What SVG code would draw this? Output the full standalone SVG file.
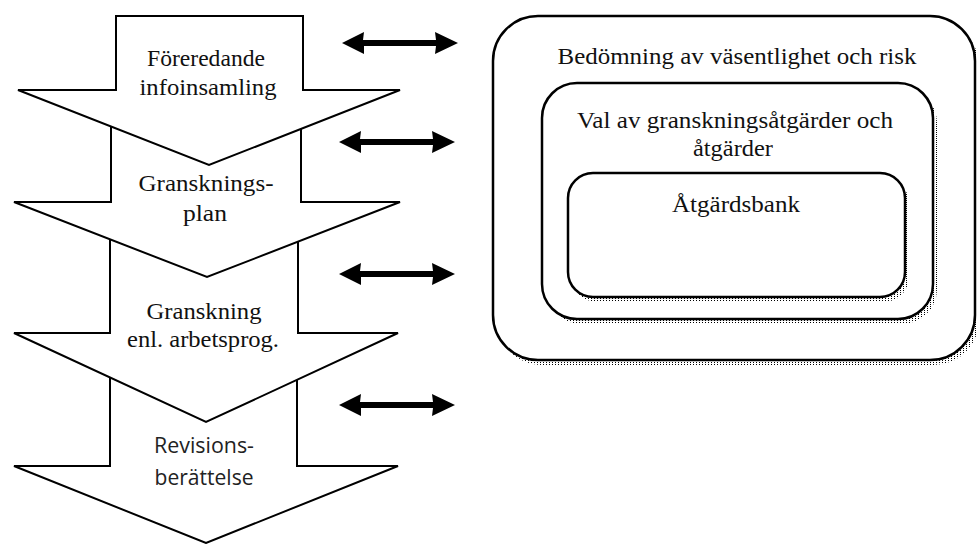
<svg xmlns="http://www.w3.org/2000/svg" width="978" height="544" viewBox="0 0 978 544">
<style>
.dn{fill:#fff;stroke:#000;stroke-width:2;stroke-linejoin:miter}
.box{fill:#fff;stroke:#000;stroke-width:2.5}
.sh{fill:url(#dots)}
.t{font-family:"Liberation Serif","Times New Roman",serif;font-size:23px;fill:#111;text-anchor:middle}
.s{font-family:"Open Sans","Liberation Sans",sans-serif;font-size:22px;fill:#222;text-anchor:middle}
.dbl{fill:#000}
</style>
<defs>
<pattern id="dots" width="3" height="2" patternUnits="userSpaceOnUse">
<rect x="0" y="0" width="1" height="1" fill="#000"/>
</pattern>
<path id="dblarrow" d="M0,0 L22,-11 L21,-3 L94,-3 L93,-11 L116,0 L93,11 L94,3 L22,3 L22,11 Z"/>
</defs>
<rect width="978" height="544" fill="#fff"/>

<g id="step4">
<polygon class="dn" points="110,355 297,355 297,466 398,466 206,543 14,466 110,466"/>
<text class="s" x="204" y="453" textLength="100" lengthAdjust="spacingAndGlyphs">Revisions-</text>
<text class="s" x="204" y="485" textLength="99" lengthAdjust="spacingAndGlyphs">berättelse</text>
</g>
<g id="step3">
<polygon class="dn" points="110,220 298,220 298,333 398,333 206,422 14,333 110,333"/>
<text class="t" x="204" y="319" textLength="115" lengthAdjust="spacingAndGlyphs">Granskning</text>
<text class="t" x="203" y="347" textLength="152" lengthAdjust="spacingAndGlyphs">enl. arbetsprog.</text>
</g>
<g id="step2">
<polygon class="dn" points="111,110 301,110 301,202 400,202 207,277 14,202 111,202"/>
<text class="t" x="206" y="191" textLength="135" lengthAdjust="spacingAndGlyphs">Gransknings-</text>
<text class="t" x="205" y="221" textLength="44" lengthAdjust="spacingAndGlyphs">plan</text>
</g>
<g id="step1">
<polygon class="dn" points="116,16 303,16 303,90 400,90 209,165 18,90 116,90"/>
<text class="t" x="206" y="66" textLength="118" lengthAdjust="spacingAndGlyphs">Föreredande</text>
<text class="t" x="208" y="95" textLength="137" lengthAdjust="spacingAndGlyphs">infoinsamling</text>
</g>

<g id="connectors">
<use href="#dblarrow" class="dbl" transform="translate(342,43)"/>
<use href="#dblarrow" class="dbl" transform="translate(339,142)"/>
<use href="#dblarrow" class="dbl" transform="translate(339,274)"/>
<use href="#dblarrow" class="dbl" transform="translate(339,405)"/>
</g>

<g id="risk">
<rect class="sh" x="497" y="21" width="482" height="344" rx="45"/>
<rect class="box" x="493" y="16" width="482" height="344" rx="45"/>
<text class="t" x="737" y="64" textLength="359" lengthAdjust="spacingAndGlyphs">Bedömning av väsentlighet och risk</text>
</g>
<g id="val">
<rect class="sh" x="546" y="88" width="391" height="236" rx="35"/>
<rect class="box" x="542" y="83" width="391" height="236" rx="35"/>
<text class="t" x="735" y="128" textLength="316" lengthAdjust="spacingAndGlyphs">Val av granskningsåtgärder och</text>
<text class="t" x="733" y="156" textLength="80" lengthAdjust="spacingAndGlyphs">åtgärder</text>
</g>
<g id="bank">
<rect class="sh" x="572" y="178" width="337" height="124" rx="25"/>
<rect class="box" x="568" y="173" width="337" height="124" rx="25"/>
<text class="t" x="736" y="212" textLength="128" lengthAdjust="spacingAndGlyphs">Åtgärdsbank</text>
</g>
</svg>
